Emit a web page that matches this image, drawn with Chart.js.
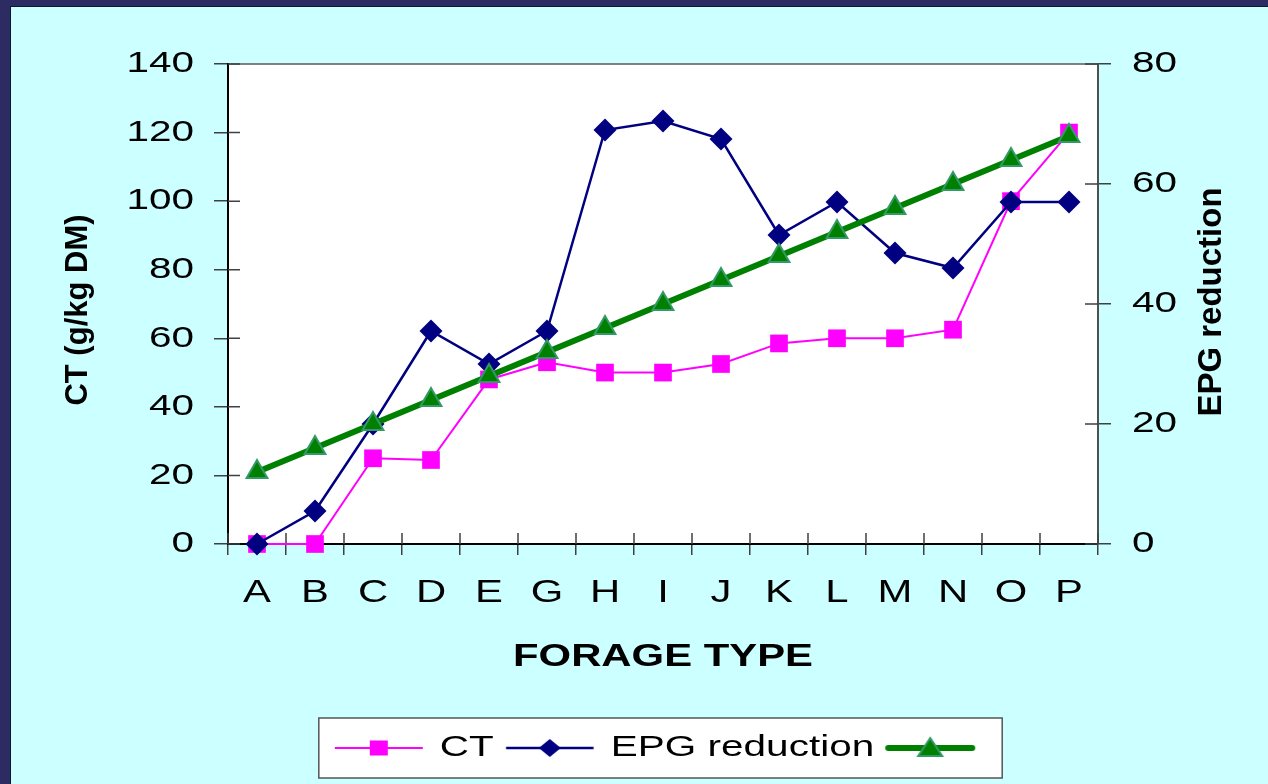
<!DOCTYPE html>
<html>
<head>
<meta charset="utf-8">
<title>CT and EPG reduction by forage type</title>
<script src="https://cdn.jsdelivr.net/npm/chart.js@4.4.1/dist/chart.umd.min.js"></script>
<style>
  html, body { margin: 0; padding: 0; background: #2c2b62; overflow: hidden; }
  #panel { position: absolute; left: 10px; top: 6px; width: 1258px; height: 778px; background: #ccffff;
           border-left: 1px solid #15152e; border-top: 1px solid #15152e; box-sizing: border-box; }
  #forageChart { position: absolute; left: 0; top: 0; }
</style>
</head>
<body>
<div id="panel"></div>
<canvas id="forageChart" width="1268" height="784"></canvas>
<script>
var categories = ['A', 'B', 'C', 'D', 'E', 'G', 'H', 'I', 'J', 'K', 'L', 'M', 'N', 'O', 'P'];
var ctValues = [0, 0, 25, 24.5, 48, 53, 50, 50, 52.5, 58.5, 60, 60, 62.5, 100, 120];
var epgValues = [0, 5.5, 20, 35.5, 30, 35.5, 69, 70.5, 67.5, 51.5, 57, 48.5, 46, 57, 57];
var trendValues = [12, 16, 20, 24, 28, 32, 36, 40, 44, 48, 52, 56, 60, 64, 68];
var ctTicks = [0, 20, 40, 60, 80, 100, 120, 140];
var epgTicks = [0, 20, 40, 60, 80];

var FONT = '"Liberation Sans", Arial, sans-serif';
var WIDEN = 1.35;      // the slide's horizontal text is drawn wider than normal
var SWATCH_W = 92;

// stretch unrotated text sideways, like the original slide
function widenText(ctx, k) {
    var fill = ctx.fillText, measure = ctx.measureText;
    ctx.fillText = function(text, x, y) {
        var m = this.getTransform();
        if (Math.abs(m.b) > 1e-6) return fill.call(this, text, x, y);
        this.save();
        this.translate(x, y);
        this.scale(k, 1);
        fill.call(this, text, 0, 0);
        this.restore();
    };
    ctx.measureText = function(text) {
        var w = measure.call(this, text).width;
        return { width: Math.abs(this.getTransform().b) > 1e-6 ? w : w * k };
    };
}

function legendSwatch(color, lineWidth, cap, drawMarker) {
    var c = document.createElement('canvas');
    c.width = SWATCH_W; c.height = 30;
    var g = c.getContext('2d');
    g.strokeStyle = color; g.lineWidth = lineWidth; g.lineCap = cap;
    g.beginPath(); g.moveTo(lineWidth / 2 + 1, 15); g.lineTo(SWATCH_W - 1 - lineWidth / 2, 15); g.stroke();
    drawMarker(g, SWATCH_W / 2, 15);
    return c;
}

var swatches = [
    legendSwatch('#ff00ff', 2, 'butt', function(g, x, y) {
        g.fillStyle = '#ff00ff'; g.fillRect(x - 9, y - 7.5, 18, 15);
    }),
    legendSwatch('#000080', 2.5, 'butt', function(g, x, y) {
        g.fillStyle = '#000080';
        g.beginPath(); g.moveTo(x - 11, y); g.lineTo(x, y - 9); g.lineTo(x + 11, y); g.lineTo(x, y + 9);
        g.closePath(); g.fill();
    }),
    legendSwatch('#008000', 6, 'round', function(g, x, y) {
        g.fillStyle = '#008000'; g.strokeStyle = '#339966'; g.lineWidth = 2;
        g.beginPath(); g.moveTo(x, y - 10); g.lineTo(x + 12, y + 8); g.lineTo(x - 12, y + 8);
        g.closePath(); g.fill(); g.stroke();
    })
];

function drawSideTitle(ctx, text, x, y, size) {
    ctx.save();
    ctx.translate(x, y);
    ctx.rotate(-Math.PI / 2);
    ctx.font = 'bold ' + size + 'px ' + FONT;
    ctx.fillStyle = '#000';
    ctx.textAlign = 'center';
    ctx.textBaseline = 'middle';
    ctx.fillText(text, 0, 0);
    ctx.restore();
}

var framePlugin = {
    id: 'frame',
    beforeDraw: function(chart) {
        var ctx = chart.ctx, a = chart.chartArea;
        ctx.save();
        ctx.fillStyle = '#ffffff';
        ctx.fillRect(a.left, a.top, a.right - a.left, a.bottom - a.top);
        ctx.strokeStyle = '#808080';
        ctx.lineWidth = 2;
        ctx.beginPath(); ctx.moveTo(a.left, a.top); ctx.lineTo(a.right, a.top); ctx.stroke();

        var boxes = chart.legend.legendHitBoxes;
        if (boxes && boxes.length) {
            var first = boxes[0], last = boxes[boxes.length - 1];
            var cy = first.top + first.height / 2;
            var x0 = first.left - 14, x1 = last.left + SWATCH_W + 26;
            ctx.fillStyle = '#ffffff';
            ctx.fillRect(x0, cy - 30, x1 - x0, 60);
            ctx.strokeStyle = '#555555';
            ctx.lineWidth = 1.5;
            ctx.strokeRect(x0, cy - 30, x1 - x0, 60);
        }
        ctx.restore();
    },
    beforeDatasetsDraw: function(chart) {
        // the tick marks cross the axes, so add the inner half
        var ctx = chart.ctx, a = chart.chartArea, s = chart.scales;
        ctx.save();
        ctx.strokeStyle = '#404040';
        ctx.lineWidth = 1.5;
        ctx.beginPath();
        for (var i = 0; i <= categories.length; i++) {
            var px = s.x.getPixelForValue(i - 0.5);
            ctx.moveTo(px, a.bottom); ctx.lineTo(px, a.bottom - 11);
        }
        s.y.ticks.forEach(function(t) {
            var py = s.y.getPixelForValue(t.value);
            ctx.moveTo(a.left, py); ctx.lineTo(a.left + 12, py);
        });
        s.y1.ticks.forEach(function(t) {
            var py = s.y1.getPixelForValue(t.value);
            ctx.moveTo(a.right, py); ctx.lineTo(a.right - 13, py);
        });
        ctx.stroke();
        ctx.restore();
    },
    afterDraw: function(chart) {
        var a = chart.chartArea, sc = chart.options.scales;
        drawSideTitle(chart.ctx, sc.y.title.text, 78, (a.top + a.bottom) / 2 + 6, 31);
        drawSideTitle(chart.ctx, sc.y1.title.text, 1212, (a.top + a.bottom) / 2 - 2, 33);
    }
};

document.addEventListener("DOMContentLoaded", function() {
    var canvas = document.getElementById('forageChart');
    var ctx = canvas.getContext('2d');
    widenText(ctx, WIDEN);

    Chart.defaults.font.family = FONT;
    Chart.defaults.color = '#000';

    new Chart(ctx, {
        type: 'line',
        data: {
            labels: categories,
            datasets: [{
                label: 'CT',
                data: ctValues,
                yAxisID: 'y',
                borderColor: '#ff00ff',
                backgroundColor: '#ff00ff',
                borderWidth: 2,
                pointStyle: 'rect',
                pointRadius: 12.5,
                pointBorderWidth: 0,
                clip: false,
                order: 2
            }, {
                label: 'EPG reduction',
                data: epgValues,
                yAxisID: 'y1',
                borderColor: '#000080',
                backgroundColor: '#000080',
                borderWidth: 2.5,
                pointStyle: 'rectRot',
                pointRadius: 11.5,
                pointBorderWidth: 0,
                clip: false,
                order: 1
            }, {
                label: '',
                data: trendValues,
                yAxisID: 'y1',
                borderColor: '#008000',
                backgroundColor: '#008000',
                borderWidth: 6,
                pointStyle: 'triangle',
                pointRadius: 12,
                pointBorderColor: '#339966',
                pointBorderWidth: 2,
                clip: false,
                order: 0
            }]
        },
        options: {
            responsive: false,
            animation: false,
            devicePixelRatio: 1,
            events: [],
            layout: { padding: { left: 56, right: 0, top: 64, bottom: 11 } },
            plugins: {
                tooltip: { enabled: false },
                legend: {
                    position: 'bottom',
                    labels: {
                        usePointStyle: true,
                        pointStyleWidth: SWATCH_W,
                        boxHeight: 30,
                        padding: 10,
                        font: { size: 30 },
                        color: '#000',
                        generateLabels: function(chart) {
                            return chart.data.datasets.map(function(ds, i) {
                                return {
                                    text: ds.label,
                                    pointStyle: swatches[i],
                                    fontColor: '#000',
                                    hidden: false,
                                    lineWidth: 0,
                                    datasetIndex: i
                                };
                            });
                        }
                    }
                }
            },
            scales: {
                x: {
                    offset: true,
                    grid: { drawOnChartArea: false, offset: true, tickLength: 11, color: '#404040', lineWidth: 1.5 },
                    border: { color: '#000', width: 2 },
                    ticks: { font: { size: 31 }, color: '#000', padding: 20, autoSkip: false, maxRotation: 0 },
                    title: {
                        display: true,
                        text: 'FORAGE TYPE',
                        font: { size: 31, weight: 'bold' },
                        color: '#000',
                        padding: { top: 0, bottom: 47 }
                    },
                    afterFit: function(s) { s.height = 179; }
                },
                y: {
                    position: 'left',
                    min: 0,
                    max: 140,
                    afterBuildTicks: function(s) { s.ticks = ctTicks.map(function(v) { return { value: v }; }); },
                    grid: { drawOnChartArea: false, tickLength: 14, color: '#404040', lineWidth: 1.5 },
                    border: { color: '#000', width: 2 },
                    ticks: { font: { size: 30 }, color: '#000', padding: 20 },
                    title: { display: false, text: 'CT (g/kg DM)' },
                    afterFit: function(s) { s.width = 172; }
                },
                y1: {
                    position: 'right',
                    min: 0,
                    max: 80,
                    afterBuildTicks: function(s) { s.ticks = epgTicks.map(function(v) { return { value: v }; }); },
                    grid: { drawOnChartArea: false, tickLength: 13, color: '#404040', lineWidth: 1.5 },
                    border: { color: '#505050', width: 2 },
                    ticks: { font: { size: 30 }, color: '#000', padding: 21 },
                    title: { display: false, text: 'EPG reduction' },
                    afterFit: function(s) { s.width = 170; }
                }
            }
        },
        plugins: [framePlugin]
    });
});
</script>
</body>
</html>
